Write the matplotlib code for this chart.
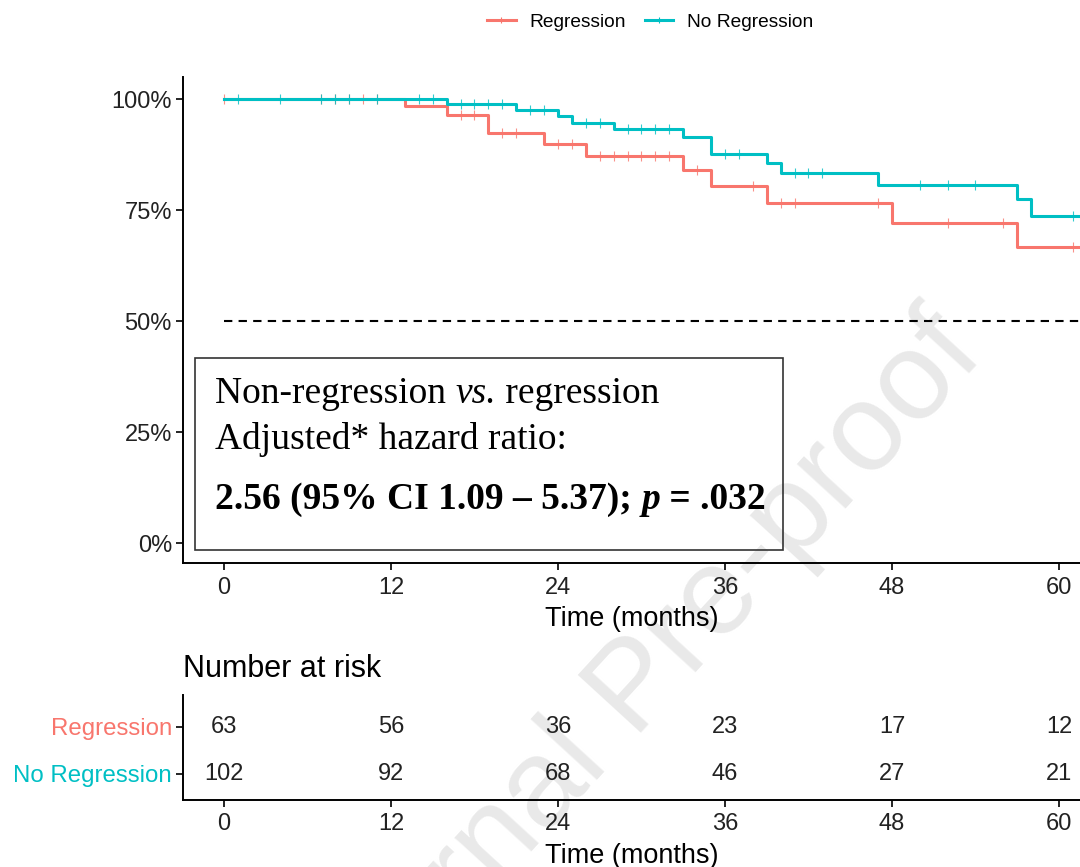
import matplotlib
matplotlib.use("Agg")
import matplotlib.pyplot as plt
from matplotlib.patches import Rectangle
from matplotlib.lines import Line2D

# ---------------- data ----------------
groups = ["Regression", "No Regression"]
colors = ["#F8766D", "#00BFC4"]

reg_times = [0, 13, 16, 19, 23, 26, 33, 35, 39, 48, 57]
reg_surv = [1.0, 0.984, 0.965, 0.924, 0.899, 0.872, 0.840, 0.804, 0.766, 0.720, 0.667]
reg_censor = [0, 7, 8, 9, 10, 11, 17, 18, 20, 21, 24, 25, 27, 28, 29, 30, 31, 32,
              34, 38, 40, 41, 47, 52, 56, 61]

noreg_times = [0, 16, 21, 24, 25, 28, 33, 35, 39, 40, 47, 57, 58]
noreg_surv = [1.0, 0.989, 0.975, 0.962, 0.947, 0.932, 0.914, 0.876, 0.857, 0.834,
              0.806, 0.774, 0.737]
noreg_censor = [1, 4, 7, 8, 9, 11, 14, 15, 17, 18, 19, 20, 22, 23, 26, 27, 29, 30,
                31, 32, 36, 37, 41, 42, 43, 50, 52, 54, 61]

follow_up_end = 66

risk_times = [0, 12, 24, 36, 48, 60]
risk_reg = [63, 56, 36, 23, 17, 12]
risk_noreg = [102, 92, 68, 46, 27, 21]

x_ticks = [0, 12, 24, 36, 48, 60]
y_ticks = [0, 0.25, 0.5, 0.75, 1.0]
y_tick_labels = ["0%", "25%", "50%", "75%", "100%"]

# ---------------- figure ----------------
W, H = 1080, 867
fig = plt.figure(figsize=(W / 100, H / 100), dpi=100)
sans = "Liberation Sans"
serif = "Liberation Serif"
tick_col = "#222222"

def fx(px):
    return px / W

def fy(py):
    return 1 - py / H

# watermark behind everything
fig.text(fx(636), fy(690), "Journal Pre-proof", fontsize=90, family=sans,
         color="#e9e9e9", rotation=47.5, ha="center", va="center",
         rotation_mode="anchor", zorder=-5)

xmin, xmax = -2.946, 61.51
ax = fig.add_axes([fx(183), fy(563), 1 - fx(183), fy(77) - fy(563)])
ax.set_facecolor("none")
ax.set_xlim(xmin, xmax)
ax.set_ylim(-0.045, 1.05)

def step_surv(times, surv):
    return times + [follow_up_end], surv + [surv[-1]]

def surv_at(times, surv, t):
    val = surv[0]
    for ti, si in zip(times, surv):
        if ti <= t:
            val = si
    return val

series = [(reg_times, reg_surv, reg_censor), (noreg_times, noreg_surv, noreg_censor)]
for (t, s, c), col in zip(series, colors):
    tx, sy = step_surv(t, s)
    ax.step(tx, sy, where="post", color=col, lw=2.2, zorder=3)
    cy = [surv_at(t, s, ci) for ci in c]
    ax.plot(c, cy, ls="none", marker="|", ms=7, mew=0.8, color=col, alpha=0.8,
            zorder=3)

ax.axhline(0.5, xmin=(0 - xmin) / (xmax - xmin), xmax=1, color="black", lw=1.5,
           ls=(0, (4, 3)), zorder=2)

for sp in ["top", "right"]:
    ax.spines[sp].set_visible(False)
for sp in ["left", "bottom"]:
    ax.spines[sp].set_linewidth(1.4)
ax.set_xticks(x_ticks)
ax.set_xticklabels([str(v) for v in x_ticks], family=sans, fontsize=17, color=tick_col)
ax.set_yticks(y_ticks)
ax.set_yticklabels(y_tick_labels, family=sans, fontsize=17, color=tick_col)
ax.tick_params(length=5, width=1.2, pad=3)
ax.tick_params(axis="x", pad=5)
ax.set_xlabel("Time (months)", family=sans, fontsize=19.5, labelpad=5)

# legend
handles = [Line2D([0], [0], color=c, lw=2.2, marker="|", ms=5, mew=0.8) for c in colors]
leg = fig.legend(handles, groups, loc="center", bbox_to_anchor=(fx(650), fy(22)),
                 ncol=2, frameon=False, prop={"family": sans, "size": 13.8},
                 handlelength=1.5, handletextpad=0.7, columnspacing=1.0)

# annotation box
fig.patches.append(Rectangle((fx(195), fy(550)), fx(783) - fx(195), fy(358) - fy(550),
                             transform=fig.transFigure, fill=False, ec="#333333",
                             lw=1.2, zorder=5))
fig.canvas.draw()
renderer = fig.canvas.get_renderer()

def write_pieces(x_px, y_px, pieces, size):
    x = fx(x_px)
    for txt, weight, style in pieces:
        t = fig.text(x, fy(y_px), txt, family=serif, fontsize=size,
                     weight=weight, style=style, va="baseline", ha="left", zorder=6)
        bb = t.get_window_extent(renderer)
        x += bb.width / W

write_pieces(215, 403, [("Non-regression ", "normal", "normal"),
                        ("vs.", "normal", "italic"),
                        (" regression", "normal", "normal")], 27)
write_pieces(215, 449, [("Adjusted* hazard ratio:", "normal", "normal")], 27)
write_pieces(215, 509, [("2.56 (95% CI 1.09 \u2013 5.37); ", "bold", "normal"),
                        ("p", "bold", "italic"),
                        (" = .032", "bold", "normal")], 27)

# risk table
rax = fig.add_axes([fx(183), fy(800), 1 - fx(183), fy(695) - fy(800)])
rax.set_facecolor("none")
rax.set_xlim(xmin, xmax)
rax.set_ylim(-0.553, 1.68)
for tt, a, b in zip(risk_times, risk_reg, risk_noreg):
    rax.text(tt, 1, str(a), ha="center", va="center", family=sans, fontsize=17,
             color=tick_col)
    rax.text(tt, 0, str(b), ha="center", va="center", family=sans, fontsize=17,
             color=tick_col)
rax.set_yticks([1, 0])
rax.set_yticklabels(groups, family=sans, fontsize=17.3)
for lab, col in zip(rax.get_yticklabels(), colors):
    lab.set_color(col)
for sp in ["top", "right"]:
    rax.spines[sp].set_visible(False)
for sp in ["left", "bottom"]:
    rax.spines[sp].set_linewidth(1.4)
rax.set_xticks(x_ticks)
rax.set_xticklabels([str(v) for v in x_ticks], family=sans, fontsize=17, color=tick_col)
rax.tick_params(length=5, width=1.2, pad=3)
rax.tick_params(axis="x", pad=4)
rax.set_xlabel("Time (months)", family=sans, fontsize=19.5, labelpad=6)
fig.text(fx(183), fy(677), "Number at risk", family=sans, fontsize=22, ha="left",
         va="baseline")

fig.savefig("out.png", dpi=100)
